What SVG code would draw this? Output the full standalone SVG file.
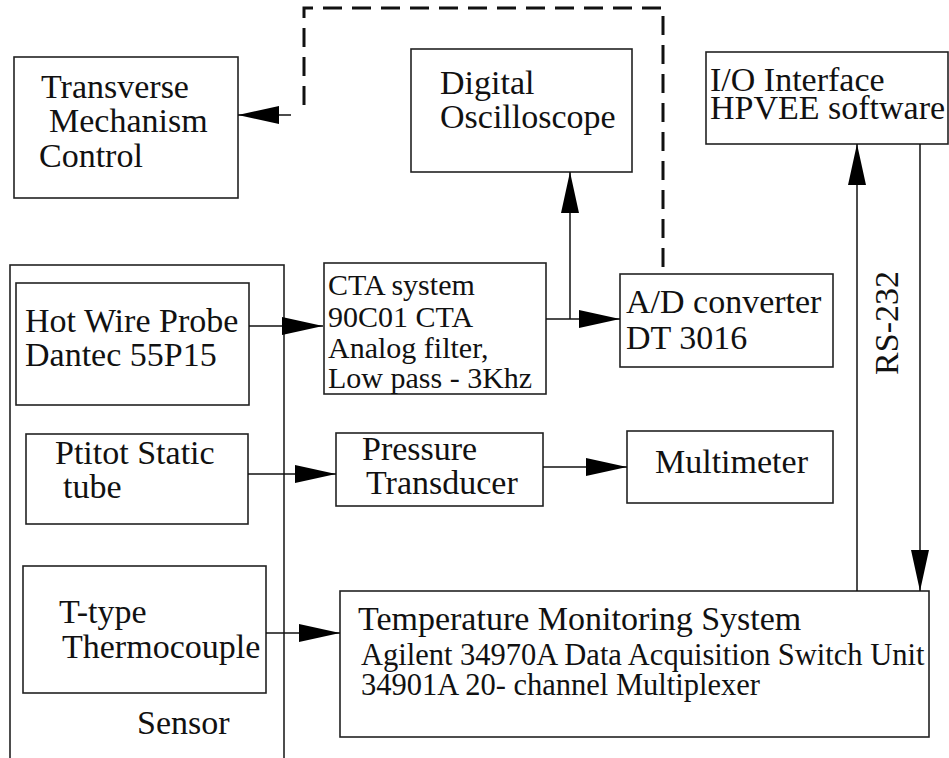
<svg xmlns="http://www.w3.org/2000/svg" width="949" height="758" viewBox="0 0 949 758">
<style>
.box{fill:#fff;stroke:#222;stroke-width:1.6}
.t{font-family:"Liberation Serif","Times New Roman",serif;font-size:34px;fill:#111}
.s{font-size:30px}
.a{font-size:30.5px}
.c{fill:none;stroke:#111;stroke-width:1.5}
.d{fill:none;stroke:#111;stroke-width:3;stroke-dasharray:19 10}
</style>
<defs>
<marker id="ah" markerUnits="userSpaceOnUse" markerWidth="41" markerHeight="18" refX="41" refY="9" orient="auto">
<path d="M0,0 L41,9 L0,18 z" fill="#000"/>
</marker>
</defs>
<rect width="949" height="758" fill="#fff"/>
<g id="sensor">
<rect class="box" x="10" y="265" width="274" height="510"/>
<text class="t" x="137" y="734">Sensor</text>
</g>
<g id="transverse">
<rect class="box" x="14" y="57" width="224" height="141"/>
<text class="t" x="41" y="98">Transverse</text>
<text class="t" x="49" y="132">Mechanism</text>
<text class="t" x="39" y="167">Control</text>
</g>
<g id="oscilloscope">
<rect class="box" x="411" y="49" width="221" height="123"/>
<text class="t" x="440" y="94">Digital</text>
<text class="t" x="440" y="128">Oscilloscope</text>
</g>
<g id="io">
<rect class="box" x="706" y="52" width="242" height="92"/>
<text class="t" x="710" y="91">I/O Interface</text>
<text class="t" x="710" y="119">HPVEE software</text>
</g>
<g id="hotwire">
<rect class="box" x="16" y="283" width="233" height="122"/>
<text class="t" x="25" y="332">Hot Wire Probe</text>
<text class="t" x="25" y="366">Dantec 55P15</text>
</g>
<g id="cta">
<rect class="box" x="324" y="263" width="222" height="131"/>
<text class="t s" x="328" y="295">CTA system</text>
<text class="t s" x="328" y="327">90C01 CTA</text>
<text class="t s" x="328" y="358">Analog filter,</text>
<text class="t s" x="328" y="388">Low pass - 3Khz</text>
</g>
<g id="adconverter">
<rect class="box" x="620" y="274" width="213" height="93"/>
<text class="t" x="626" y="313">A/D converter</text>
<text class="t" x="626" y="349">DT 3016</text>
</g>
<g id="pitot">
<rect class="box" x="26" y="434" width="222" height="90"/>
<text class="t" x="55" y="464">Ptitot Static</text>
<text class="t" x="63" y="498">tube</text>
</g>
<g id="pressure">
<rect class="box" x="336" y="433" width="207" height="73"/>
<text class="t" x="362" y="460">Pressure</text>
<text class="t" x="366" y="494">Transducer</text>
</g>
<g id="multimeter">
<rect class="box" x="627" y="431" width="206" height="72"/>
<text class="t" x="655" y="473">Multimeter</text>
</g>
<g id="thermocouple">
<rect class="box" x="23" y="566" width="243" height="127"/>
<text class="t" x="59" y="623">T-type</text>
<text class="t" x="62" y="658">Thermocouple</text>
</g>
<g id="temperature">
<rect class="box" x="340" y="591" width="589" height="146"/>
<text class="t" x="358" y="630">Temperature Monitoring System</text>
<text class="t a" x="361" y="665">Agilent 34970A Data Acquisition Switch Unit</text>
<text class="t a" x="361" y="695">34901A 20- channel Multiplexer</text>
</g>
<g id="connectors">
<path class="c" d="M249,326 L323,326" marker-end="url(#ah)"/>
<path class="c" d="M546,319 L620,319" marker-end="url(#ah)"/>
<path class="c" d="M570,319 L570,172" marker-end="url(#ah)"/>
<path class="c" d="M248,474 L336,474" marker-end="url(#ah)"/>
<path class="c" d="M543,467 L627,467" marker-end="url(#ah)"/>
<path class="c" d="M266,633 L340,633" marker-end="url(#ah)"/>
<path class="c" d="M857,591 L857,144" marker-end="url(#ah)"/>
<path class="c" d="M920,144 L920,591" marker-end="url(#ah)"/>
<path class="d" d="M663,267 L663,8 L304,8 L304,115"/>
<path class="c" d="M291,115 L238,115" stroke-width="3" marker-end="url(#ah)"/>
<text class="t" transform="translate(898,323) rotate(-90)" text-anchor="middle">RS-232</text>
</g>
</svg>
